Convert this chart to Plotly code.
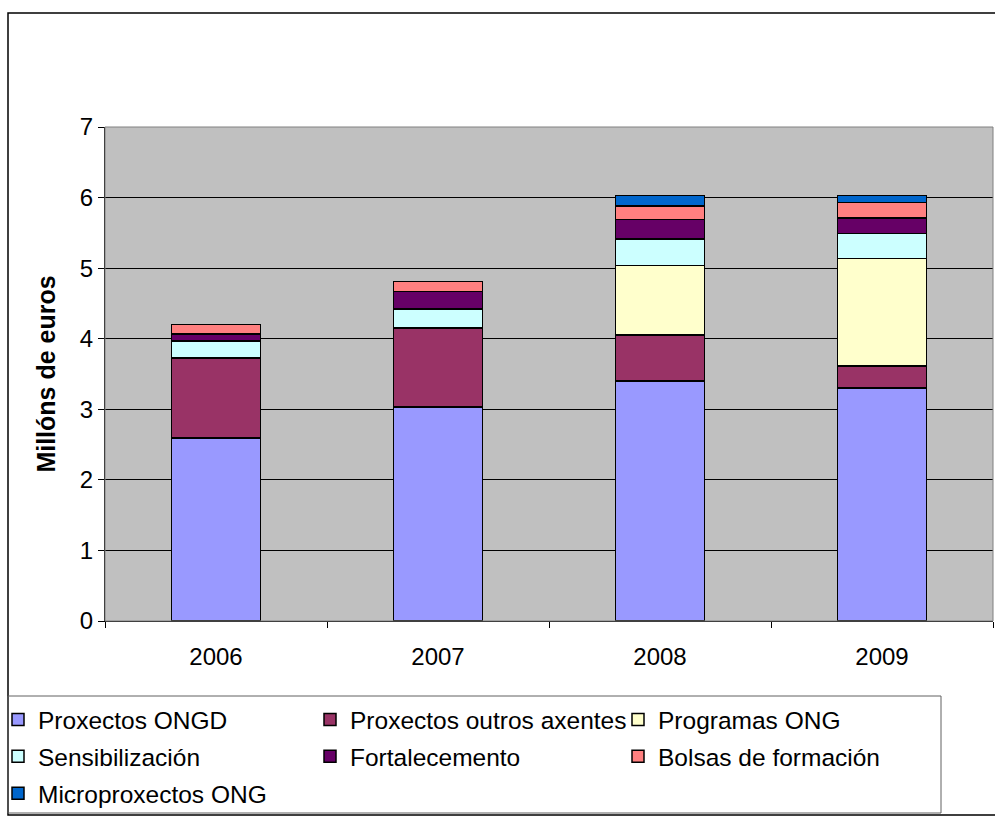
import plotly.graph_objects as go

# values in millions of euros
years = ["2006", "2007", "2008", "2009"]
series_names = [
    "Proxectos ONGD",
    "Proxectos outros axentes",
    "Programas ONG",
    "Sensibilización",
    "Fortalecemento",
    "Bolsas de formación",
    "Microproxectos ONG",
]
proxectos_ongd = [2.59, 3.03, 3.40, 3.30]
proxectos_outros = [1.14, 1.12, 0.65, 0.31]
programas_ong = [0.0, 0.0, 0.99, 1.53]
sensibilizacion = [0.24, 0.27, 0.37, 0.35]
fortalecemento = [0.10, 0.25, 0.28, 0.22]
bolsas_formacion = [0.13, 0.14, 0.19, 0.22]
microproxectos = [0.0, 0.0, 0.15, 0.10]

series_values = [
    proxectos_ongd, proxectos_outros, programas_ong, sensibilizacion,
    fortalecemento, bolsas_formacion, microproxectos,
]
colors = ["#9999FF", "#993366", "#FFFFCC", "#CCFFFF", "#660066", "#FF8080", "#0066CC"]
# which of the three legend columns each series goes to
legend_ids = ["legend", "legend2", "legend3", "legend", "legend2", "legend3", "legend"]

FONT = "Liberation Sans, Arial, sans-serif"
W, H = 995, 816
PL, PR, PT, PB = 105, 993, 127, 621  # plot area in pixels


def px_x(x):
    return (x - PL) / (PR - PL)


def px_y(y):
    return (PB - y) / (PB - PT)


fig = go.Figure()
for name, vals, col, lg in zip(series_names, series_values, colors, legend_ids):
    fig.add_trace(go.Bar(
        x=years, y=vals, name=name, legend=lg, legendgroup=name,
        marker=dict(color=col, line=dict(color="black", width=1.5)),
    ))

legend_common = dict(
    orientation="v", xanchor="left", yanchor="top",
    bgcolor="rgba(0,0,0,0)", borderwidth=0,
    font=dict(family=FONT, size=24.5, color="black"),
    tracegroupgap=2, itemclick=False,
)
legend_top = px_y(697)

fig.update_layout(
    width=W, height=H,
    margin=dict(l=PL, r=W - PR, t=PT, b=H - PB, pad=0, autoexpand=False),
    paper_bgcolor="white", plot_bgcolor="#C0C0C0",
    barmode="stack", bargap=0.6,
    font=dict(family=FONT, size=24, color="black"),
    legend=dict(x=px_x(-2), y=legend_top, **legend_common),
    legend2=dict(x=px_x(310), y=legend_top, **legend_common),
    legend3=dict(x=px_x(618), y=legend_top, **legend_common),
    xaxis=dict(
        showgrid=False, showline=True, linecolor="black", linewidth=1,
        ticks="outside", tickson="boundaries", ticklen=6, tickcolor="black",
        tickfont=dict(size=24), ticklabelstandoff=14,
    ),
    yaxis=dict(
        range=[0, 7], dtick=1, showgrid=True, gridcolor="black", gridwidth=1,
        showline=True, linecolor="black", linewidth=1,
        ticks="outside", ticklen=6, tickcolor="black",
        tickfont=dict(size=24), zeroline=False,
        title=dict(text="<b>Millóns de euros</b>", font=dict(size=25), standoff=17),
    ),
    shapes=[
        # plot area border
        dict(type="rect", xref="paper", yref="paper", x0=0, x1=1, y0=0, y1=1,
             line=dict(color="#808080", width=1), layer="above"),
        # outer chart border
        dict(type="rect", xref="paper", yref="paper",
             x0=px_x(8), x1=px_x(1010), y0=px_y(815), y1=px_y(13),
             line=dict(color="black", width=1.5)),
        # legend box
        dict(type="rect", xref="paper", yref="paper",
             x0=px_x(8), x1=px_x(941), y0=px_y(813), y1=px_y(696),
             line=dict(color="#606060", width=1), fillcolor="rgba(0,0,0,0)"),
    ],
)

# drop the default page margin so the 995x816 figure fills the window
fig.write_html(
    "out.html",
    config={"displayModeBar": False},
    post_script="document.body.style.margin='0';"
                "document.documentElement.style.overflow='hidden';",
)
